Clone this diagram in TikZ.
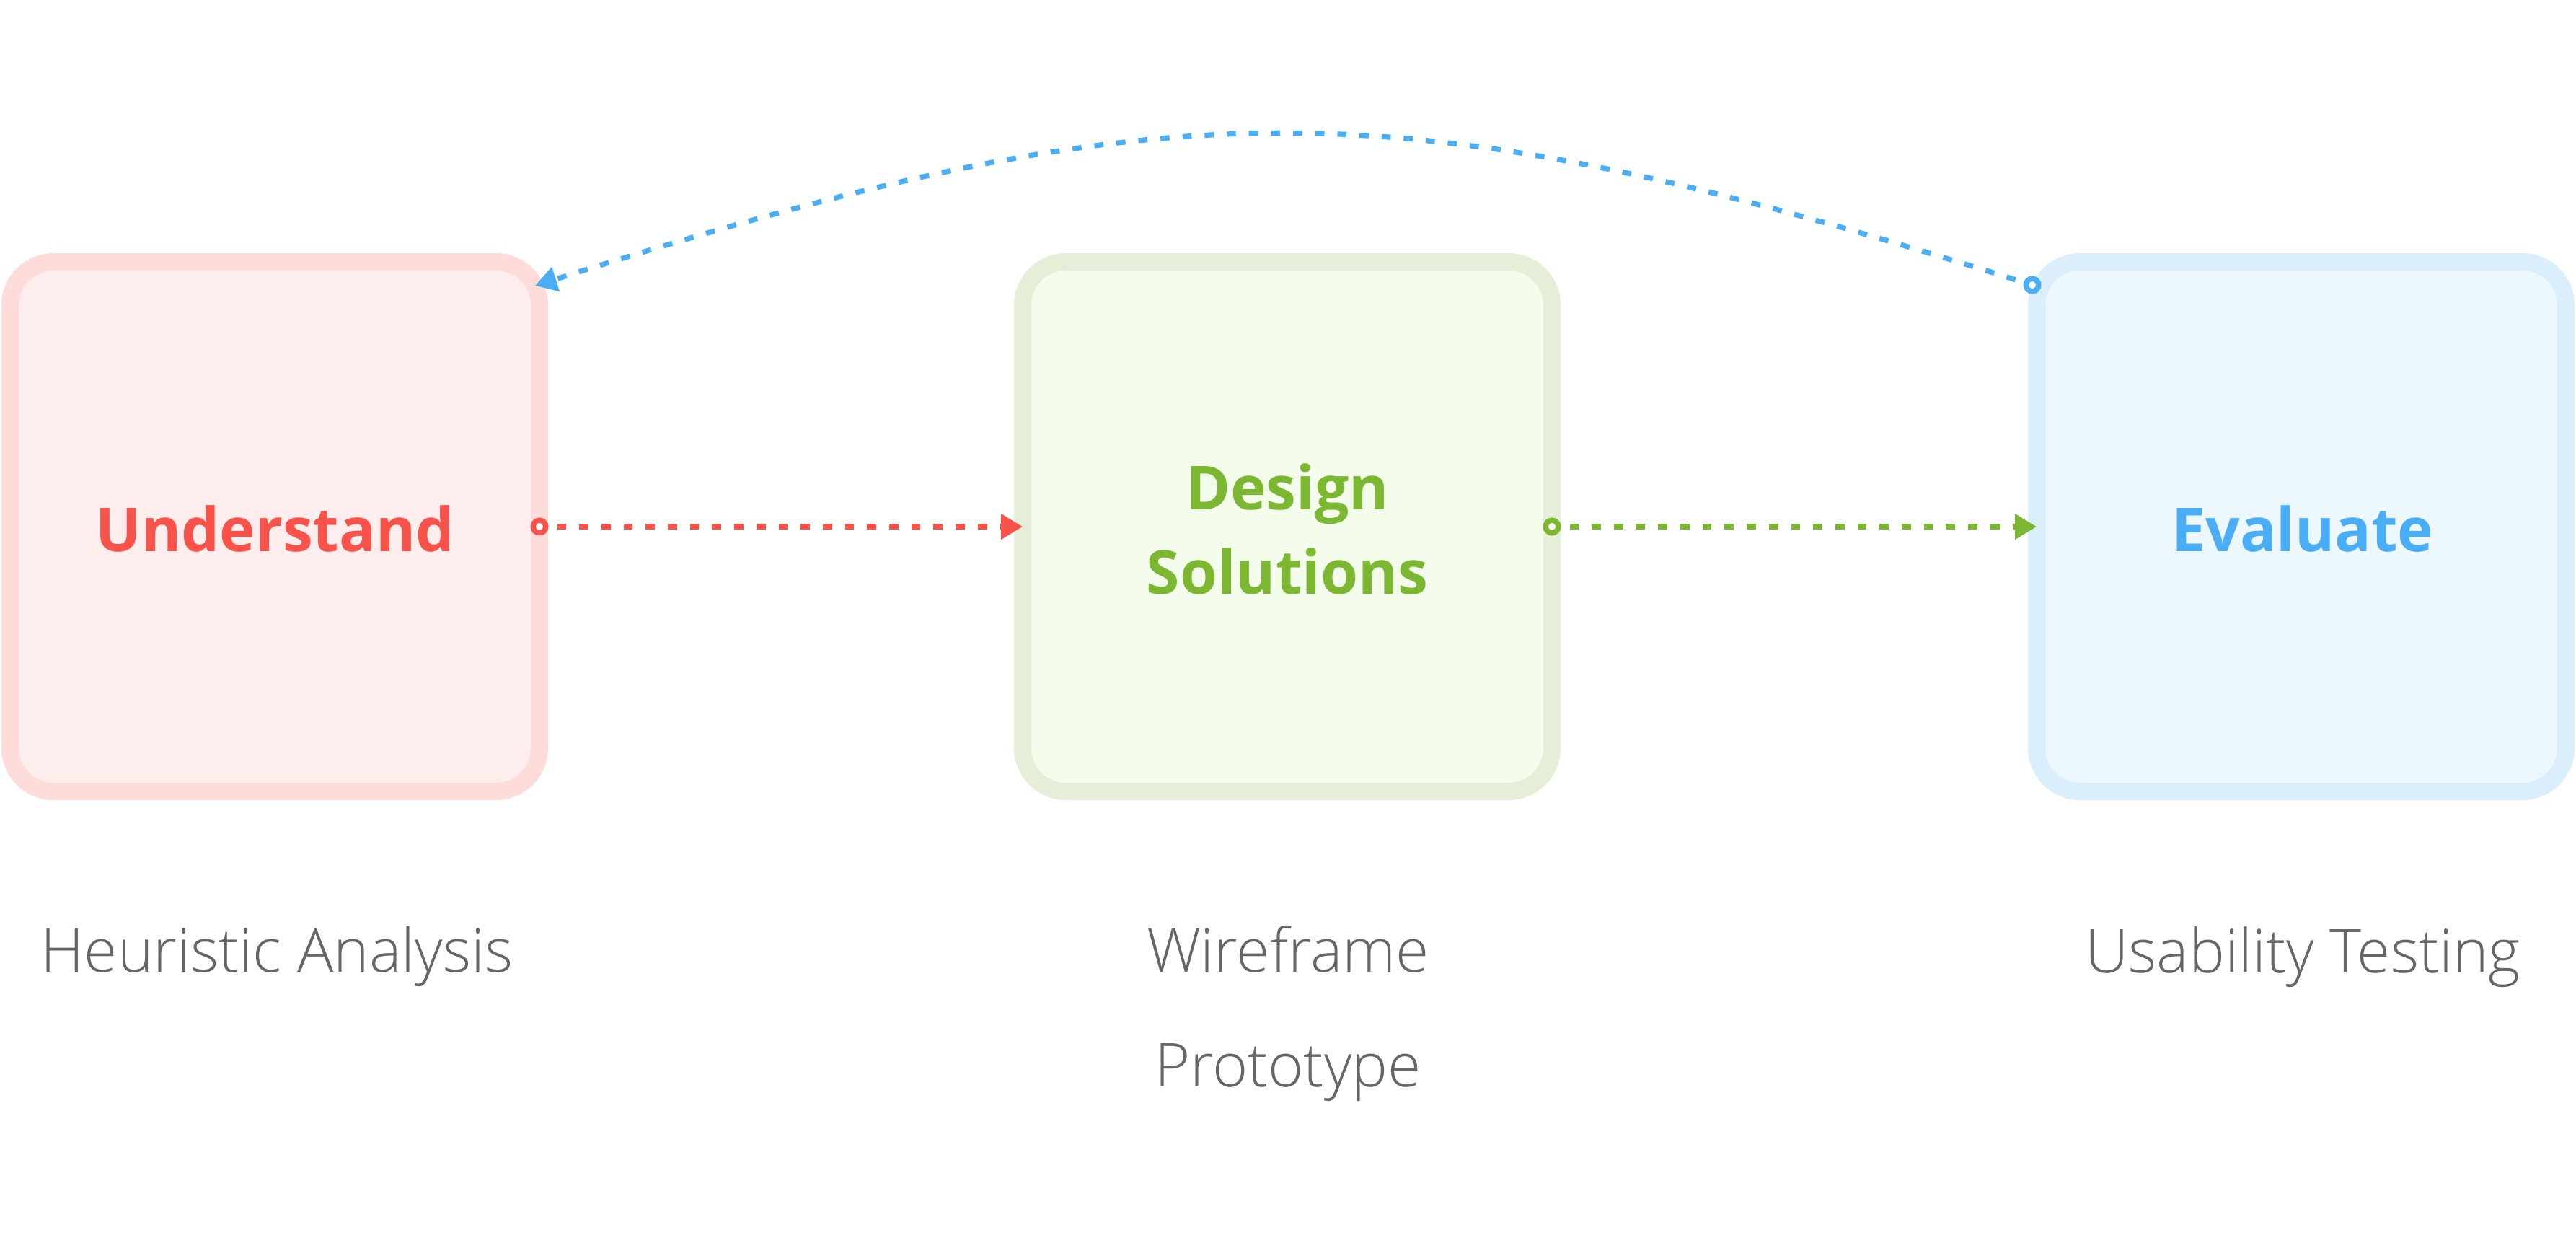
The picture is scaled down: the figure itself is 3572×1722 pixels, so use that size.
\documentclass[tikz,border=0pt]{standalone}
\usepackage{fontspec}
\setmainfont{Open Sans}
\newfontfamily\lightfont{Open Sans Light}
\usetikzlibrary{arrows.meta}
\definecolor{redT}{HTML}{F8534A}
\definecolor{redB}{HTML}{FEDCDA}
\definecolor{redF}{HTML}{FEEDED}
\definecolor{grnT}{HTML}{7CB731}
\definecolor{grnB}{HTML}{E5EFD7}
\definecolor{grnF}{HTML}{F4FDEC}
\definecolor{bluT}{HTML}{4AAEF6}
\definecolor{bluB}{HTML}{DAEEFC}
\definecolor{bluF}{HTML}{ECF7FE}
\definecolor{gryT}{HTML}{666666}
\begin{document}
\begin{tikzpicture}[x=0.2pt,y=-0.2pt,
  stagebox/.style 2 args={draw=#1, fill=#2, rounded corners=12pt, line width=4.8pt,
    minimum width=146.8pt, minimum height=146.8pt, inner sep=0pt, outer sep=0pt},
  title/.style={text=#1, anchor=base, inner sep=0pt, font=\fontsize{16.8}{20}\selectfont\bfseries},
  sub/.style={text=gryT, anchor=base, inner sep=0pt, font=\fontsize{16.8}{20}\selectfont\lightfont},
  dot/.style={circle, draw=#1, fill=white, line width=1.5pt, minimum size=3.5pt, inner sep=0pt},
  flow/.style={draw=#1, line width=1.45pt, dash pattern=on 2.54pt off 3.6pt, dash phase=3.74pt,
    -{Triangle[length=6pt,width=6.8pt]}}
]
\useasboundingbox (0,0) rectangle (3572,1722);

% boxes
\node[stagebox={redB}{redF}] (u) at (381,730) {};
\node[stagebox={grnB}{grnF}] (d) at (1785,730) {};
\node[stagebox={bluB}{bluF}] (e) at (3191,730) {};

% titles
\node[title=redT] (ut) at (381,764) {Understand};
\node[title=grnT] (dt1) at (1785,706) {Design};
\node[title=grnT] (dt2) at (1785,823) {Solutions};
\node[title=bluT] (et) at (3193,764) {Evaluate};

% sub labels
\node[sub] (us) at (384,1347) {Heuristic Analysis};
\node[sub] (ds1) at (1786,1347) {Wireframe};
\node[sub] (ds2) at (1786,1506) {Prototype};
\node[sub] (es) at (3193,1348) {Usability Testing};

% connectors
\node[dot=redT] (c1) at (u.east) {};
\node[dot=grnT] (c2) at (d.east) {};
\node[dot=bluT] (c3) at (2818,395) {};
\coordinate (uin) at (742,396);

\draw[flow=redT] (c1) -- (d.west);
\draw[flow=grnT] (c2) -- (e.west);
\draw[flow=bluT] (c3) .. controls (1931,116) and (1629,116) .. (uin);
\end{tikzpicture}
\end{document}
